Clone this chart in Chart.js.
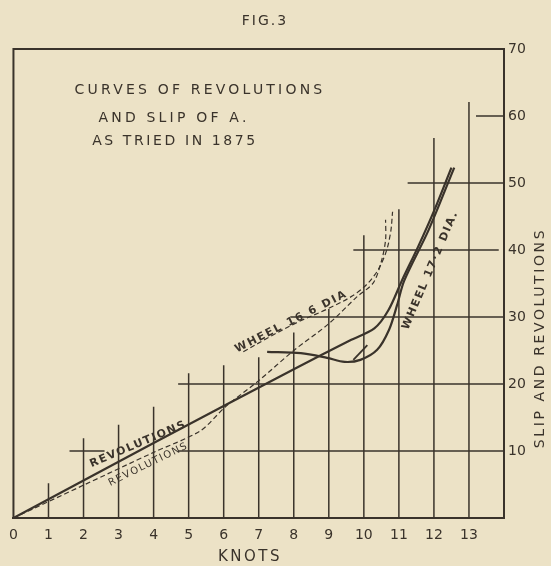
<!DOCTYPE html>
<html lang="en">
<head>
<meta charset="UTF-8">
<title>Fig. 3 - Curves of revolutions and slip</title>
<script src="https://cdn.jsdelivr.net/npm/chart.js"></script>
<style>
  html, body { margin: 0; padding: 0; background: #ece2c6; }
</style>
</head>
<body>
<canvas id="fig" width="551" height="566"></canvas>

<script>
// axis ticks
var knotTicks = [0, 1, 2, 3, 4, 5, 6, 7, 8, 9, 10, 11, 12, 13];
var levelTicks = [10, 20, 30, 40, 50, 60, 70];

// vertical rules at each knot and how high they reach
var ruleKnots = [1, 2, 3, 4, 5, 6, 7, 8, 9, 10, 11, 12, 13];
var ruleTops  = [5.2, 11.9, 13.9, 16.6, 21.6, 22.8, 24.0, 27.7, 31.2, 42.2, 46.1, 56.7, 62.1];

// horizontal rules: level, from knot, to knot
var rowLevels = [10, 10, 20, 30, 40, 50, 60];
var rowStarts = [1.6, 4.7, 4.7, 7.9, 9.7, 11.25, 13.2];
var rowEnds   = [2.6, 14, 14, 14, 13.85, 14, 14];

// wheel 17.2 dia - revolutions (solid)
var revSolidX = [0, 4, 8, 9.6, 10.3, 10.7, 11.1, 11.55, 12.0, 12.5];
var revSolidY = [0, 11.2, 22.2, 26.5, 28.3, 31.0, 35.6, 40.5, 45.8, 52.3];

// wheel 17.2 dia - slip (solid)
var slipSolidX = [7.24, 8.2, 8.95, 9.45, 9.9, 10.38, 10.72, 10.95, 11.15, 11.85, 12.58];
var slipSolidY = [24.8, 24.6, 23.9, 23.3, 23.6, 25.1, 28.1, 31.8, 35.4, 43.0, 52.3];
var slipStubX = [9.7, 10.1];
var slipStubY = [23.6, 25.8];

// wheel 16.6 dia - revolutions (dashed)
var revDashX = [0, 2, 4, 5.33, 6.05, 7.0, 8.0, 9.0, 9.8, 10.27, 10.5, 10.62, 10.62];
var revDashY = [0, 4.9, 9.8, 13.0, 16.6, 20.5, 25.0, 29.0, 33.0, 35.1, 38.3, 41.5, 44.5];

// wheel 16.6 dia - slip (dashed)
var slipDashX = [6.56, 7.3, 8.1, 9.0, 9.8, 10.3, 10.6, 10.76, 10.82];
var slipDashY = [24.8, 27.0, 29.2, 31.3, 33.6, 36.2, 39.2, 42.5, 45.7];

var ink = '#3a332b';
var paper = '#ece2c6';
var face = '"DejaVu Sans", sans-serif';

function pts(xs, ys) {
    var out = [];
    for (var i = 0; i < xs.length; i++) out.push({ x: xs[i], y: ys[i] });
    return out;
}

var datasets = [];

// grid rules
for (var i = 0; i < ruleKnots.length; i++) {
    datasets.push({
        data: [{ x: ruleKnots[i], y: 0 }, { x: ruleKnots[i], y: ruleTops[i] }],
        borderColor: ink, borderWidth: 1.5, tension: 0
    });
}
for (var j = 0; j < rowLevels.length; j++) {
    datasets.push({
        data: [{ x: rowStarts[j], y: rowLevels[j] }, { x: rowEnds[j], y: rowLevels[j] }],
        borderColor: ink, borderWidth: 1.5, tension: 0
    });
}

// curves
datasets.push({ data: pts(revSolidX, revSolidY), borderColor: ink, borderWidth: 2.2, tension: 0.3 });
datasets.push({ data: pts(slipSolidX, slipSolidY), borderColor: ink, borderWidth: 2.2, tension: 0.3 });
datasets.push({ data: pts(slipStubX, slipStubY), borderColor: ink, borderWidth: 1.8, tension: 0 });
datasets.push({ data: pts(revDashX, revDashY), borderColor: ink, borderWidth: 1.2, borderDash: [5, 3], tension: 0.3 });
datasets.push({ data: pts(slipDashX, slipDashY), borderColor: ink, borderWidth: 1.2, borderDash: [5, 3], tension: 0.35 });

// paper colour behind everything
var paperPlugin = {
    id: 'paper',
    beforeDraw: function(chart) {
        var c = chart.ctx;
        c.save();
        c.fillStyle = paper;
        c.fillRect(0, 0, chart.width, chart.height);
        c.restore();
    }
};

function label(c, text, x, y, angle, size, spacing, weight) {
    c.save();
    c.translate(x, y);
    c.rotate(angle * Math.PI / 180);
    c.font = (weight || 'normal') + ' ' + size + 'px ' + face;
    c.letterSpacing = spacing + 'px';
    c.fillStyle = ink;
    c.textAlign = 'center';
    c.textBaseline = 'middle';
    c.fillText(text, 0, 0);
    c.restore();
}

// frame and lettering
var letteringPlugin = {
    id: 'lettering',
    afterDraw: function(chart) {
        var c = chart.ctx;
        var a = chart.chartArea;
        var sx = chart.scales.x, sy = chart.scales.y;
        c.save();
        c.strokeStyle = ink;
        c.lineWidth = 2;
        c.beginPath();
        c.moveTo(a.left, a.bottom);
        c.lineTo(a.left, a.top);
        c.lineTo(a.right, a.top);
        c.stroke();
        c.restore();

        label(c, 'FIG.3', 265, 21, 0, 14, 2);
        label(c, 'CURVES OF REVOLUTIONS', 200, 90, 0, 14, 3.2);
        label(c, 'AND SLIP OF A.', 174, 118, 0, 14, 3.2);
        label(c, 'AS TRIED IN 1875', 175, 141, 0, 14, 2.6);
        label(c, 'KNOTS', 250, 557, 0, 15, 2.5);
        label(c, 'SLIP AND REVOLUTIONS', 540, 338, -90, 14, 2.6);

        label(c, 'REVOLUTIONS', sx.getPixelForValue(3.56), sy.getPixelForValue(11.0), -23, 11, 1.5, 'bold');
        label(c, 'REVOLUTIONS', sx.getPixelForValue(3.85), sy.getPixelForValue(8.0), -26, 10, 1.5);
        label(c, 'WHEEL 16 6 DIA', sx.getPixelForValue(7.93), sy.getPixelForValue(29.3), -27, 11, 1.8, 'bold');
        label(c, 'WHEEL 17·2 DIA.', sx.getPixelForValue(11.9), sy.getPixelForValue(37.0), -67, 11, 1.6, 'bold');
    }
};

new Chart(document.getElementById('fig').getContext('2d'), {
    type: 'line',
    data: { datasets: datasets },
    options: {
        responsive: false,
        animation: false,
        layout: { padding: { left: 13, top: 49, right: 0, bottom: 0 } },
        plugins: { legend: { display: false }, tooltip: { enabled: false } },
        elements: { point: { radius: 0 } },
        scales: {
            x: {
                type: 'linear', min: 0, max: 14,
                grid: { display: false, drawTicks: false },
                border: { display: true, color: ink, width: 2 },
                afterBuildTicks: function(s) { s.ticks = knotTicks.map(function(v) { return { value: v }; }); },
                afterFit: function(s) { s.height = 48; },
                ticks: { color: ink, font: { family: face, size: 14 }, padding: 9, maxRotation: 0, autoSkip: false }
            },
            y: {
                type: 'linear', position: 'right', min: 0, max: 70,
                grid: { display: false, drawTicks: false },
                border: { display: true, color: ink, width: 2 },
                afterBuildTicks: function(s) { s.ticks = levelTicks.map(function(v) { return { value: v }; }); },
                afterFit: function(s) { s.width = 47; },
                ticks: { color: ink, font: { family: face, size: 14 }, padding: 4 }
            }
        }
    },
    plugins: [paperPlugin, letteringPlugin]
});
</script>
</body>
</html>
